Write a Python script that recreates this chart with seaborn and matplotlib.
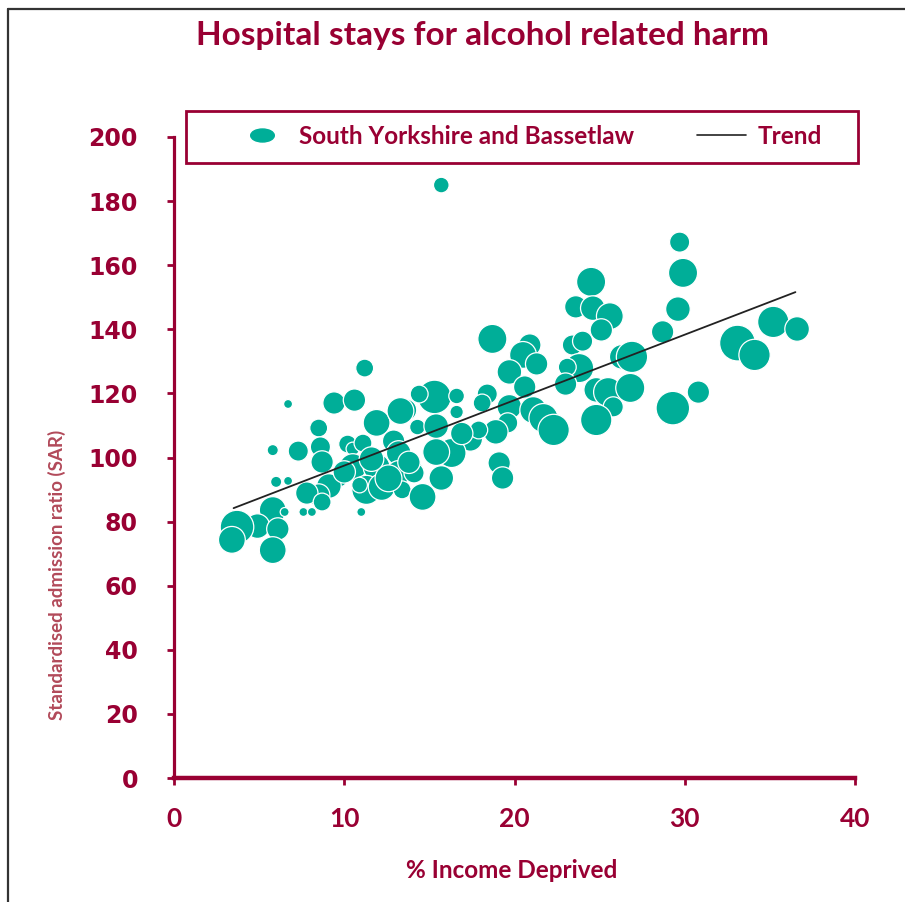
import numpy as np
import pandas as pd
import matplotlib
matplotlib.use("Agg")
import matplotlib.pyplot as plt
from matplotlib.lines import Line2D
from matplotlib.patches import Rectangle
from matplotlib.path import Path
import seaborn as sns

# ---------------- data ----------------
income_deprived = [
    15.7, 29.7, 29.9, 24.5, 23.6, 24.6, 25.6, 25.1, 29.6, 28.7,
    33.1, 34.1, 35.2, 36.6, 18.7, 20.9, 20.5, 21.3, 19.7, 20.6,
    23.4, 24.0, 23.8, 23.1, 23.0, 26.3, 26.9, 24.8, 25.5, 25.8,
    26.8, 24.8, 29.3, 30.8, 19.7, 21.1, 21.7, 22.3, 19.6, 18.9,
    18.4, 18.1, 17.4, 17.9, 16.3, 15.4, 15.3, 16.6, 16.6, 14.4,
    14.3, 15.4, 13.6, 19.1, 19.3, 15.7, 14.0, 11.2, 6.7, 9.4,
    10.6, 11.9, 13.3, 8.5, 8.6, 8.7, 7.3, 5.8, 10.2, 10.5,
    11.1, 12.9, 13.2, 10.5, 11.9, 13.2, 14.1, 11.3, 12.2, 13.4,
    14.6, 10.9, 9.8, 9.1, 8.5, 7.8, 8.7, 6.0, 6.7, 5.8,
    6.5, 7.6, 8.1, 11.0, 4.9, 6.1, 3.7, 3.4, 5.8,
    12.6, 11.6, 10.0, 13.8, 16.9,
]
sar = [
    185.0, 167.2, 157.6, 154.8, 147.0, 146.6, 144.1, 139.8, 146.3, 139.2,
    135.7, 132.0, 142.3, 140.1, 137.0, 135.1, 132.0, 129.2, 126.7, 122.0,
    135.1, 136.3, 127.9, 128.2, 122.9, 131.4, 131.4, 121.1, 120.4, 115.8,
    121.7, 111.7, 115.4, 120.4, 115.8, 114.8, 112.3, 108.6, 110.8, 108.0,
    119.8, 117.0, 105.8, 108.6, 101.4, 101.7, 118.9, 119.2, 114.2, 119.8,
    109.5, 109.8, 114.8, 98.3, 93.6, 93.6, 95.8, 127.9, 116.7, 117.0,
    117.9, 110.8, 114.5, 109.2, 103.3, 98.6, 102.0, 102.3, 104.2, 102.7,
    104.5, 105.1, 101.4, 97.0, 97.0, 95.2, 95.2, 89.9, 90.8, 89.9,
    87.7, 91.4, 92.7, 91.1, 88.3, 88.9, 86.1, 92.4, 92.7, 83.6,
    83.0, 83.0, 83.0, 83.0, 78.6, 77.7, 78.3, 74.3, 71.1,
    93.5, 99.5, 95.5, 98.5, 107.5,
]
population = [
    2940, 4860, 10140, 10140, 6000, 7260, 8640, 6000, 7260, 6000,
    15360, 11760, 11760, 7260, 10140, 6000, 8640, 6000, 7260, 6000,
    4860, 4860, 10140, 3840, 6000, 7260, 11760, 7260, 10140, 4860,
    10140, 11760, 13500, 6000, 7260, 8640, 10140, 11760, 4860, 7260,
    4860, 3840, 7260, 3840, 10140, 8640, 13500, 2940, 2160, 3840,
    2940, 7260, 6000, 6000, 6000, 7260, 6000, 3840, 960, 6000,
    6000, 8640, 8640, 3840, 4860, 6000, 4860, 1500, 3840, 2160,
    3840, 6000, 7260, 8640, 8640, 7260, 4860, 10140, 8640, 3840,
    8640, 2940, 1500, 7260, 6000, 6000, 3840, 1500, 960, 8640,
    960, 960, 960, 960, 7260, 6000, 13500, 8640, 8640,
    8640, 7260, 6000, 6000, 6000,
]
trend_x = [3.5, 36.5]
trend_y = [84.2, 151.6]

series_label = "South Yorkshire and Bassetlaw"
trend_label = "Trend"
title = "Hospital stays for alcohol related harm"
xlabel = "% Income Deprived"
ylabel = "Standardised admission ratio (SAR)"
x_ticks = [0, 10, 20, 30, 40]
y_ticks = [0, 20, 40, 60, 80, 100, 120, 140, 160, 180, 200]

df = pd.DataFrame({"deprived": income_deprived, "sar": sar, "pop": population})

# ---------------- style ----------------
sns.set_theme(style="white")
plt.rcParams["font.family"] = ["Lato", "DejaVu Sans"]

MAROON = "#990033"
TEAL = "#00AE98"
YLAB = "#B24A5A"

W, H = 905, 902
fig = plt.figure(figsize=(W / 100, H / 100), dpi=100)
ax = fig.add_axes([174 / W, 1 - 778 / H, (855 - 174) / W, (778 - 137) / H])

pmin, pmax = min(population), max(population)
k = 2.0736 / 60.0 * 1.25
sns.scatterplot(data=df, x="deprived", y="sar", size="pop",
                sizes=(pmin * k, pmax * k), size_norm=(pmin, pmax),
                color=TEAL, edgecolor="white", linewidth=0.9, alpha=1,
                legend=False, ax=ax, zorder=2)
sns.lineplot(x=trend_x, y=trend_y, color="#222222", linewidth=1.3, ax=ax, zorder=3)

ax.set_xlim(0, 40)
ax.set_ylim(0, 200)
ax.set_xticks(x_ticks)
ax.set_yticks(y_ticks)
ax.set_xlabel("")
ax.set_ylabel("")
for s in ["top", "right"]:
    ax.spines[s].set_visible(False)
ax.spines["left"].set_color(MAROON)
ax.spines["left"].set_linewidth(2.3)
ax.spines["bottom"].set_color(MAROON)
ax.spines["bottom"].set_linewidth(3.2)
ax.tick_params(axis="both", which="both", direction="out", color=MAROON,
               width=2, length=5, labelcolor=MAROON)
ax.tick_params(axis="y", left=True, pad=21)
ax.tick_params(axis="x", bottom=True, pad=16)
for t in ax.get_yticklabels():
    t.set_fontfamily("DejaVu Sans")
    t.set_fontweight("bold")
    t.set_fontsize(17)
for t in ax.get_xticklabels():
    t.set_fontfamily("Lato")
    t.set_fontweight("bold")
    t.set_fontsize(19)

fig.text(482 / W, 1 - 35 / H, title, ha="center", va="center",
         fontsize=24, fontweight="bold", color=MAROON)
fig.text(512 / W, 1 - 870 / H, xlabel, ha="center", va="center",
         fontsize=17.5, fontweight="bold", color=MAROON)
fig.text(57 / W, 1 - 575 / H, ylabel, ha="center", va="center", rotation=90,
         fontsize=13.5, fontweight="bold", color=YLAB)

# legend box
fig.add_artist(Rectangle((186 / W, 1 - 163 / H), 672 / W, 52 / H,
                         transform=fig.transFigure, facecolor="white",
                         edgecolor=MAROON, linewidth=2, zorder=5))
circ = Path.unit_circle()
ellipse = Path(circ.vertices * np.array([1.0, 0.55]), circ.codes)
handles = [
    Line2D([], [], marker=ellipse, linestyle="none", markersize=17,
           markerfacecolor=TEAL, markeredgecolor=TEAL),
    Line2D([], [], color="#222222", linewidth=1.2),
]
leg = fig.legend(handles, [series_label, trend_label],
                 loc="center",
                 bbox_to_anchor=(530 / W, 1 - 136 / H),
                 ncol=2, frameon=False, borderaxespad=0,
                 borderpad=0.0, handlelength=2.0, handletextpad=0.5,
                 columnspacing=2.6,
                 prop={"family": "Lato", "weight": "bold", "size": 17.5})
leg.set_zorder(6)
for t in leg.get_texts():
    t.set_color(MAROON)

# outer frame lines (left and top)
fig.add_artist(Line2D([8 / W, 8 / W], [0, 1 - 9 / H], color="#333333",
                      linewidth=1.6, transform=fig.transFigure))
fig.add_artist(Line2D([8 / W, 1], [1 - 9 / H, 1 - 9 / H], color="#333333",
                      linewidth=1.6, transform=fig.transFigure))

fig.savefig("out.png", dpi=100, facecolor="white")
